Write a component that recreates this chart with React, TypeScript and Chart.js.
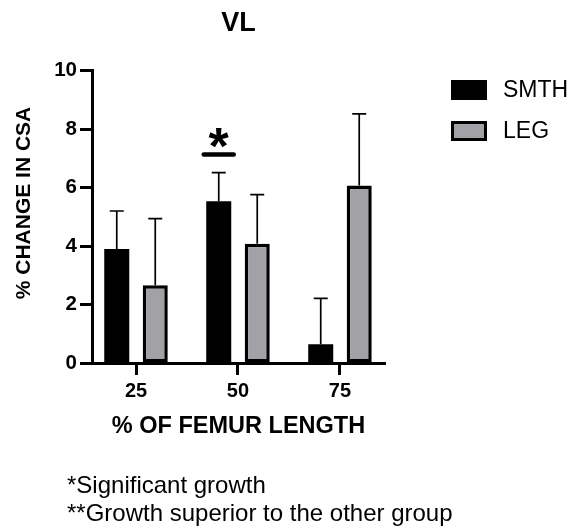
import React, { useEffect, useRef } from "react";
import { Chart, registerables } from "chart.js";

Chart.register(...registerables);

const FONT = "'Liberation Sans', Arial, Helvetica, sans-serif";

// ---- data ----
const chartTitle = "VL";
const categories = ["25", "50", "75"];
const seriesNames = ["SMTH", "LEG"];
const smthMean = [3.9, 5.53, 0.64];
const smthSD = [1.3, 0.98, 1.57];
const legMean = [2.66, 4.08, 6.07];
const legSD = [2.28, 1.68, 2.45];
const yTicks = [0, 2, 4, 6, 8, 10];
const sigMarks = [{ category: 1, dataset: 0, lineValue: 7.13, starValue: 7.82, label: "*" }];
const footnotes = ["*Significant growth", "**Growth superior to the other group"];

const overlayPlugin = {
  id: "overlay",
  afterDatasetsDraw(chart: any) {
    const { ctx, chartArea } = chart;
    const y = chart.scales.y;
    ctx.save();
    // error bars (upper only)
    chart.data.datasets.forEach((ds: any, di: number) => {
      const meta = chart.getDatasetMeta(di);
      meta.data.forEach((bar: any, i: number) => {
        const top = y.getPixelForValue(ds.data[i] + ds.sd[i]);
        ctx.strokeStyle = "#000";
        ctx.lineWidth = 1.7;
        ctx.lineCap = "butt";
        ctx.beginPath();
        ctx.moveTo(bar.x, bar.y);
        ctx.lineTo(bar.x, top);
        ctx.moveTo(bar.x - 7, top);
        ctx.lineTo(bar.x + 7, top);
        ctx.stroke();
      });
    });
    // significance marks
    sigMarks.forEach((m) => {
      const bar = chart.getDatasetMeta(m.dataset).data[m.category];
      const ly = y.getPixelForValue(m.lineValue);
      ctx.strokeStyle = "#000";
      ctx.lineWidth = 4.5;
      ctx.lineCap = "round";
      ctx.beginPath();
      ctx.moveTo(bar.x - 15, ly);
      ctx.lineTo(bar.x + 15, ly);
      ctx.stroke();
      const sy = y.getPixelForValue(m.starValue);
      const size = 52;
      ctx.font = `bold ${size}px ${FONT}`;
      ctx.fillStyle = "#000";
      ctx.textAlign = "center";
      ctx.textBaseline = "alphabetic";
      ctx.fillText(m.label, bar.x, sy + 0.56 * size);
    });
    // legend
    chart.data.datasets.forEach((ds: any, di: number) => {
      const cy = 90 + di * 41;
      ctx.fillStyle = ds.backgroundColor;
      ctx.fillRect(451, cy - 10, 36, 20);
      ctx.strokeStyle = "#000";
      ctx.lineWidth = 3;
      ctx.strokeRect(452.5, cy - 8.5, 33, 17);
      ctx.fillStyle = "#000";
      ctx.font = `23px ${FONT}`;
      ctx.textAlign = "left";
      ctx.textBaseline = "middle";
      ctx.fillText(ds.label, 503, cy + 1);
    });
    // chart title
    ctx.font = `bold 27px ${FONT}`;
    ctx.textAlign = "center";
    ctx.textBaseline = "middle";
    ctx.fillStyle = "#000";
    ctx.fillText(chartTitle, (chartArea.left + chartArea.right) / 2, 24);
    // y-axis title
    ctx.translate(24, 203);
    ctx.rotate(-Math.PI / 2);
    ctx.font = `bold 21px ${FONT}`;
    ctx.textAlign = "center";
    ctx.textBaseline = "middle";
    ctx.fillText("% CHANGE IN CSA", 0, 0);
    ctx.restore();
  },
};

export default function App() {
  const ref = useRef<HTMLCanvasElement>(null);
  useEffect(() => {
    const chart = new Chart(ref.current as HTMLCanvasElement, {
      type: "bar",
      data: {
        labels: categories,
        datasets: [
          {
            label: seriesNames[0],
            data: smthMean,
            sd: smthSD,
            backgroundColor: "#000000",
            borderColor: "#000000",
            borderWidth: 0,
            categoryPercentage: 0.755,
            barPercentage: 0.65,
          } as any,
          {
            label: seriesNames[1],
            data: legMean,
            sd: legSD,
            backgroundColor: "#a1a1a6",
            borderColor: "#000000",
            borderWidth: 3.5,
            borderSkipped: false,
            categoryPercentage: 0.755,
            barPercentage: 0.65,
          } as any,
        ],
      },
      options: {
        responsive: false,
        animation: false,
        devicePixelRatio: 1,
        layout: { padding: { left: 0, right: 187, top: 70.7, bottom: 0 } },
        plugins: {
          legend: { display: false },
          tooltip: { enabled: false },
          title: { display: false },
        },
        scales: {
          x: {
            type: "category",
            offset: true,
            afterBuildTicks: (s: any) => {
              s._startValue = -0.4315;
              s._valueRange = 2.873;
            },
            afterFit: (s: any) => {
              s.height = 167;
            },
            grid: {
              display: true,
              drawOnChartArea: false,
              drawTicks: true,
              tickLength: 12,
              tickWidth: 3,
              tickColor: "#000",
              offset: false,
            },
            border: { display: true, color: "#000", width: 3 },
            ticks: { color: "#000", font: { size: 20, weight: "bold", family: FONT }, padding: 4 },
            title: {
              display: true,
              text: "% OF FEMUR LENGTH",
              color: "#000",
              font: { size: 23.5, weight: "bold", family: FONT },
              padding: { top: 0, bottom: 89 },
            },
          },
          y: {
            min: yTicks[0],
            max: yTicks[yTicks.length - 1],
            afterFit: (s: any) => {
              s.width = 92;
            },
            ticks: {
              stepSize: yTicks[1] - yTicks[0],
              color: "#000",
              font: { size: 20.5, weight: "bold", family: FONT },
              padding: 3,
            },
            grid: {
              drawOnChartArea: false,
              drawTicks: true,
              tickLength: 12,
              tickWidth: 3,
              tickColor: "#000",
            },
            border: { display: true, color: "#000", width: 3 },
          },
        },
      } as any,
      plugins: [overlayPlugin],
    });
    return () => chart.destroy();
  }, []);

  return (
    <div style={{ position: "absolute", left: 0, top: 0, width: 572, height: 530, background: "#fff" }}>
      <canvas ref={ref} width={572} height={530} style={{ display: "block" }} />
      <div
        style={{
          position: "absolute",
          left: 67,
          top: 471,
          fontFamily: FONT,
          fontSize: 24,
          lineHeight: "28px",
          color: "#000",
          whiteSpace: "nowrap",
        }}
      >
        {footnotes.map((f) => (
          <div key={f}>{f}</div>
        ))}
      </div>
    </div>
  );
}
